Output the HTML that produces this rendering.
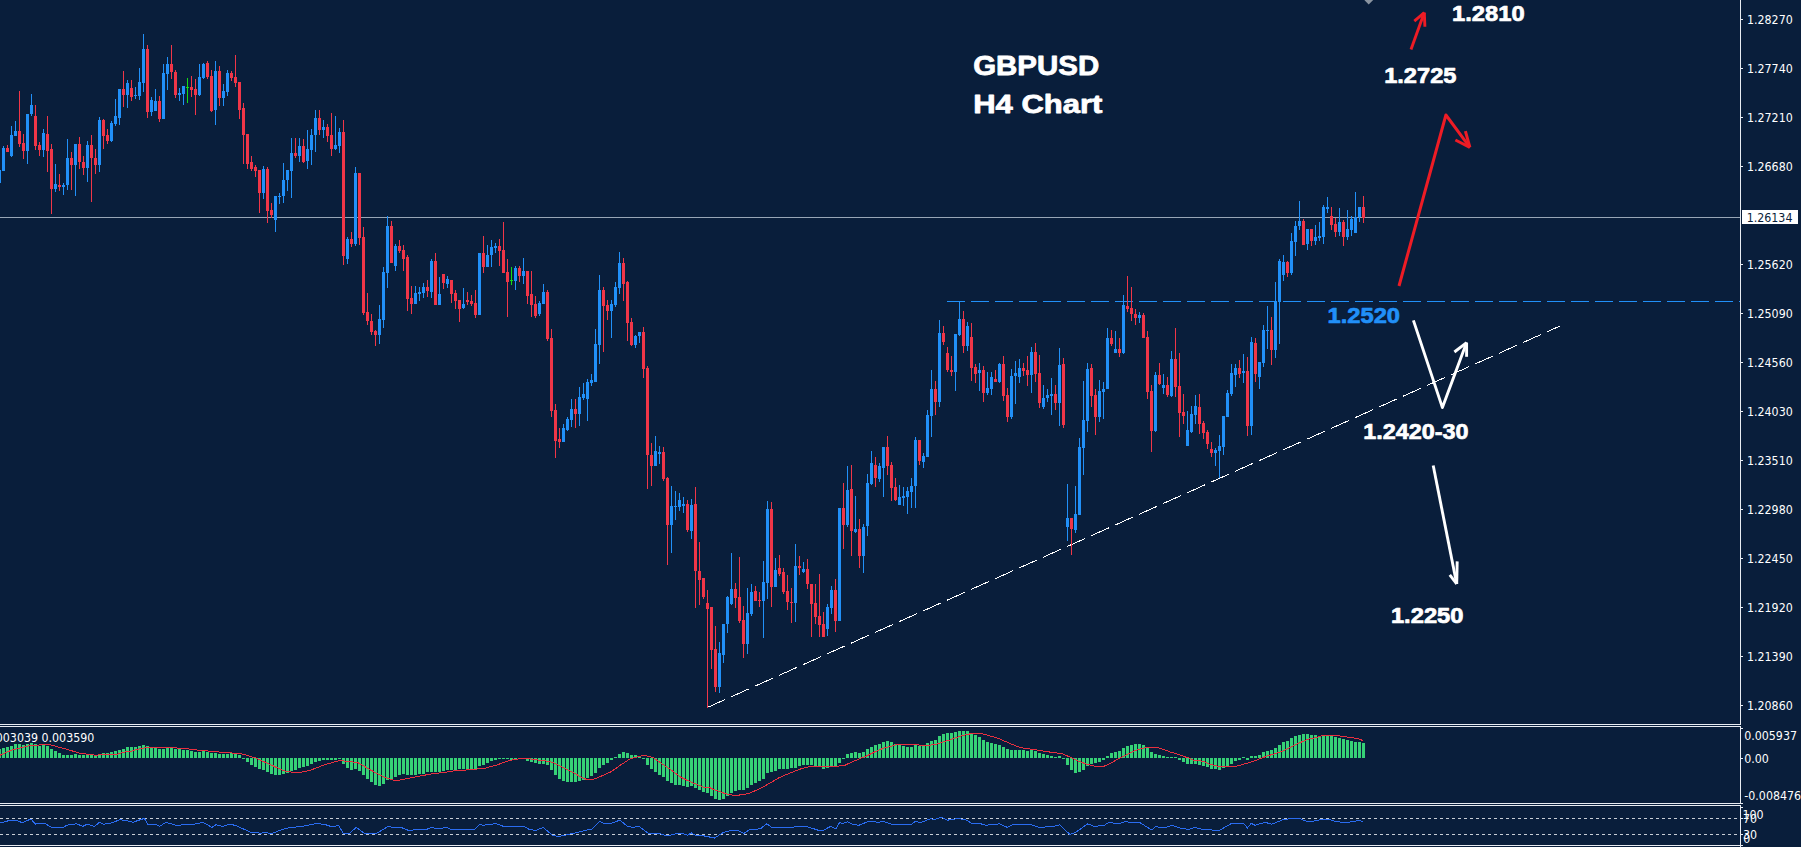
<!DOCTYPE html>
<html lang="en"><head><meta charset="utf-8"><title>GBPUSD H4 Chart</title>
<style>
html,body{margin:0;padding:0;background:#091e3b;}
body{width:1801px;height:847px;overflow:hidden;position:relative;}
</style></head><body>
<svg width="1801" height="847" viewBox="0 0 1801 847" style="position:absolute;left:0;top:0;display:block">
<rect x="0" y="0" width="1801" height="847" fill="#091e3b"/>
<rect x="0" y="217" width="1741" height="1" fill="#98a6b6"/>
<line x1="707.3" y1="707.5" x2="1560" y2="326" stroke="#ffffff" stroke-width="1" stroke-dasharray="19.72 6.57" shape-rendering="crispEdges"/>
<line x1="947" y1="301.5" x2="1740" y2="301.5" stroke="#2190f8" stroke-width="1" stroke-dasharray="18 6" shape-rendering="crispEdges"/>
<g shape-rendering="crispEdges">
<rect x="-1" y="170" width="1" height="13" fill="#2190f8"/>
<rect x="-2" y="170" width="3" height="13" fill="#2190f8"/>
<rect x="3" y="146" width="1" height="25" fill="#2190f8"/>
<rect x="2" y="148" width="3" height="23" fill="#2190f8"/>
<rect x="7" y="145" width="1" height="7" fill="#f03648"/>
<rect x="6" y="148" width="3" height="4" fill="#f03648"/>
<rect x="11" y="126" width="1" height="31" fill="#2190f8"/>
<rect x="10" y="135" width="3" height="21" fill="#2190f8"/>
<rect x="15" y="121" width="1" height="15" fill="#2190f8"/>
<rect x="14" y="131" width="3" height="5" fill="#2190f8"/>
<rect x="19" y="91" width="1" height="56" fill="#f03648"/>
<rect x="18" y="131" width="3" height="13" fill="#f03648"/>
<rect x="23" y="134" width="1" height="25" fill="#f03648"/>
<rect x="22" y="143" width="3" height="8" fill="#f03648"/>
<rect x="27" y="114" width="1" height="50" fill="#2190f8"/>
<rect x="26" y="114" width="3" height="37" fill="#2190f8"/>
<rect x="31" y="94" width="1" height="22" fill="#2190f8"/>
<rect x="30" y="105" width="3" height="9" fill="#2190f8"/>
<rect x="35" y="105" width="1" height="45" fill="#f03648"/>
<rect x="34" y="116" width="3" height="30" fill="#f03648"/>
<rect x="39" y="142" width="1" height="14" fill="#f03648"/>
<rect x="38" y="145" width="3" height="5" fill="#f03648"/>
<rect x="43" y="129" width="1" height="28" fill="#2190f8"/>
<rect x="42" y="133" width="3" height="17" fill="#2190f8"/>
<rect x="47" y="116" width="1" height="56" fill="#f03648"/>
<rect x="46" y="134" width="3" height="17" fill="#f03648"/>
<rect x="51" y="144" width="1" height="70" fill="#f03648"/>
<rect x="50" y="149" width="3" height="40" fill="#f03648"/>
<rect x="55" y="164" width="1" height="28" fill="#2190f8"/>
<rect x="54" y="184" width="3" height="5" fill="#2190f8"/>
<rect x="59" y="174" width="1" height="17" fill="#f03648"/>
<rect x="58" y="185" width="3" height="2" fill="#f03648"/>
<rect x="63" y="183" width="1" height="12" fill="#2190f8"/>
<rect x="62" y="185" width="3" height="2" fill="#2190f8"/>
<rect x="67" y="139" width="1" height="51" fill="#2190f8"/>
<rect x="66" y="158" width="3" height="27" fill="#2190f8"/>
<rect x="71" y="152" width="1" height="38" fill="#f03648"/>
<rect x="70" y="158" width="3" height="7" fill="#f03648"/>
<rect x="75" y="144" width="1" height="52" fill="#2190f8"/>
<rect x="74" y="144" width="3" height="21" fill="#2190f8"/>
<rect x="79" y="137" width="1" height="32" fill="#f03648"/>
<rect x="78" y="144" width="3" height="18" fill="#f03648"/>
<rect x="83" y="156" width="1" height="19" fill="#f03648"/>
<rect x="82" y="162" width="3" height="6" fill="#f03648"/>
<rect x="87" y="141" width="1" height="41" fill="#2190f8"/>
<rect x="86" y="145" width="3" height="23" fill="#2190f8"/>
<rect x="91" y="135" width="1" height="67" fill="#f03648"/>
<rect x="90" y="145" width="3" height="13" fill="#f03648"/>
<rect x="95" y="149" width="1" height="25" fill="#f03648"/>
<rect x="94" y="158" width="3" height="7" fill="#f03648"/>
<rect x="99" y="117" width="1" height="55" fill="#2190f8"/>
<rect x="98" y="120" width="3" height="45" fill="#2190f8"/>
<rect x="103" y="119" width="1" height="30" fill="#f03648"/>
<rect x="102" y="120" width="3" height="16" fill="#f03648"/>
<rect x="107" y="129" width="1" height="15" fill="#f03648"/>
<rect x="106" y="135" width="3" height="6" fill="#f03648"/>
<rect x="111" y="121" width="1" height="21" fill="#2190f8"/>
<rect x="110" y="123" width="3" height="18" fill="#2190f8"/>
<rect x="115" y="99" width="1" height="27" fill="#2190f8"/>
<rect x="114" y="116" width="3" height="8" fill="#2190f8"/>
<rect x="119" y="89" width="1" height="36" fill="#2190f8"/>
<rect x="118" y="89" width="3" height="29" fill="#2190f8"/>
<rect x="123" y="71" width="1" height="36" fill="#f03648"/>
<rect x="122" y="89" width="3" height="6" fill="#f03648"/>
<rect x="127" y="80" width="1" height="28" fill="#2190f8"/>
<rect x="126" y="83" width="3" height="12" fill="#2190f8"/>
<rect x="131" y="80" width="1" height="21" fill="#f03648"/>
<rect x="130" y="88" width="3" height="9" fill="#f03648"/>
<rect x="135" y="87" width="1" height="12" fill="#2190f8"/>
<rect x="134" y="95" width="3" height="1" fill="#2190f8"/>
<rect x="139" y="68" width="1" height="32" fill="#2190f8"/>
<rect x="138" y="82" width="3" height="14" fill="#2190f8"/>
<rect x="143" y="34" width="1" height="58" fill="#2190f8"/>
<rect x="142" y="49" width="3" height="34" fill="#2190f8"/>
<rect x="147" y="45" width="1" height="73" fill="#f03648"/>
<rect x="146" y="49" width="3" height="63" fill="#f03648"/>
<rect x="151" y="97" width="1" height="19" fill="#2190f8"/>
<rect x="150" y="100" width="3" height="12" fill="#2190f8"/>
<rect x="155" y="89" width="1" height="22" fill="#2190f8"/>
<rect x="154" y="101" width="3" height="10" fill="#2190f8"/>
<rect x="159" y="96" width="1" height="26" fill="#f03648"/>
<rect x="158" y="101" width="3" height="18" fill="#f03648"/>
<rect x="163" y="64" width="1" height="55" fill="#2190f8"/>
<rect x="162" y="73" width="3" height="46" fill="#2190f8"/>
<rect x="167" y="57" width="1" height="33" fill="#2190f8"/>
<rect x="166" y="64" width="3" height="10" fill="#2190f8"/>
<rect x="171" y="45" width="1" height="34" fill="#f03648"/>
<rect x="170" y="64" width="3" height="8" fill="#f03648"/>
<rect x="175" y="70" width="1" height="28" fill="#f03648"/>
<rect x="174" y="72" width="3" height="23" fill="#f03648"/>
<rect x="179" y="88" width="1" height="13" fill="#2190f8"/>
<rect x="178" y="93" width="3" height="2" fill="#2190f8"/>
<rect x="183" y="86" width="1" height="19" fill="#2190f8"/>
<rect x="182" y="86" width="3" height="8" fill="#2190f8"/>
<rect x="187" y="78" width="1" height="25" fill="#14dc14"/>
<rect x="186" y="87" width="3" height="1" fill="#14dc14"/>
<rect x="191" y="76" width="1" height="21" fill="#f03648"/>
<rect x="190" y="87" width="3" height="3" fill="#f03648"/>
<rect x="195" y="79" width="1" height="36" fill="#f03648"/>
<rect x="194" y="89" width="3" height="6" fill="#f03648"/>
<rect x="199" y="64" width="1" height="32" fill="#2190f8"/>
<rect x="198" y="77" width="3" height="18" fill="#2190f8"/>
<rect x="203" y="63" width="1" height="16" fill="#2190f8"/>
<rect x="202" y="64" width="3" height="14" fill="#2190f8"/>
<rect x="207" y="61" width="1" height="18" fill="#f03648"/>
<rect x="206" y="63" width="3" height="14" fill="#f03648"/>
<rect x="211" y="70" width="1" height="42" fill="#f03648"/>
<rect x="210" y="76" width="3" height="35" fill="#f03648"/>
<rect x="215" y="61" width="1" height="64" fill="#2190f8"/>
<rect x="214" y="71" width="3" height="39" fill="#2190f8"/>
<rect x="219" y="66" width="1" height="40" fill="#f03648"/>
<rect x="218" y="71" width="3" height="27" fill="#f03648"/>
<rect x="223" y="84" width="1" height="22" fill="#2190f8"/>
<rect x="222" y="91" width="3" height="7" fill="#2190f8"/>
<rect x="227" y="70" width="1" height="26" fill="#2190f8"/>
<rect x="226" y="73" width="3" height="19" fill="#2190f8"/>
<rect x="231" y="71" width="1" height="10" fill="#f03648"/>
<rect x="230" y="73" width="3" height="5" fill="#f03648"/>
<rect x="235" y="55" width="1" height="32" fill="#f03648"/>
<rect x="234" y="77" width="3" height="6" fill="#f03648"/>
<rect x="239" y="82" width="1" height="37" fill="#f03648"/>
<rect x="238" y="82" width="3" height="28" fill="#f03648"/>
<rect x="243" y="103" width="1" height="61" fill="#f03648"/>
<rect x="242" y="108" width="3" height="27" fill="#f03648"/>
<rect x="247" y="134" width="1" height="35" fill="#f03648"/>
<rect x="246" y="134" width="3" height="30" fill="#f03648"/>
<rect x="251" y="156" width="1" height="15" fill="#f03648"/>
<rect x="250" y="162" width="3" height="7" fill="#f03648"/>
<rect x="255" y="165" width="1" height="12" fill="#f03648"/>
<rect x="254" y="167" width="3" height="4" fill="#f03648"/>
<rect x="259" y="170" width="1" height="43" fill="#f03648"/>
<rect x="258" y="170" width="3" height="23" fill="#f03648"/>
<rect x="263" y="166" width="1" height="33" fill="#2190f8"/>
<rect x="262" y="169" width="3" height="24" fill="#2190f8"/>
<rect x="267" y="167" width="1" height="56" fill="#f03648"/>
<rect x="266" y="169" width="3" height="42" fill="#f03648"/>
<rect x="271" y="203" width="1" height="15" fill="#f03648"/>
<rect x="270" y="210" width="3" height="5" fill="#f03648"/>
<rect x="275" y="196" width="1" height="36" fill="#2190f8"/>
<rect x="274" y="196" width="3" height="24" fill="#2190f8"/>
<rect x="279" y="193" width="1" height="11" fill="#2190f8"/>
<rect x="278" y="196" width="3" height="1" fill="#2190f8"/>
<rect x="283" y="163" width="1" height="40" fill="#2190f8"/>
<rect x="282" y="180" width="3" height="16" fill="#2190f8"/>
<rect x="287" y="170" width="1" height="21" fill="#2190f8"/>
<rect x="286" y="170" width="3" height="10" fill="#2190f8"/>
<rect x="291" y="138" width="1" height="60" fill="#2190f8"/>
<rect x="290" y="153" width="3" height="18" fill="#2190f8"/>
<rect x="295" y="138" width="1" height="20" fill="#f03648"/>
<rect x="294" y="153" width="3" height="3" fill="#f03648"/>
<rect x="299" y="138" width="1" height="24" fill="#2190f8"/>
<rect x="298" y="146" width="3" height="10" fill="#2190f8"/>
<rect x="303" y="139" width="1" height="24" fill="#f03648"/>
<rect x="302" y="146" width="3" height="16" fill="#f03648"/>
<rect x="307" y="130" width="1" height="39" fill="#2190f8"/>
<rect x="306" y="149" width="3" height="12" fill="#2190f8"/>
<rect x="311" y="129" width="1" height="36" fill="#2190f8"/>
<rect x="310" y="135" width="3" height="15" fill="#2190f8"/>
<rect x="315" y="110" width="1" height="42" fill="#2190f8"/>
<rect x="314" y="118" width="3" height="17" fill="#2190f8"/>
<rect x="319" y="110" width="1" height="25" fill="#f03648"/>
<rect x="318" y="118" width="3" height="12" fill="#f03648"/>
<rect x="323" y="120" width="1" height="18" fill="#2190f8"/>
<rect x="322" y="127" width="3" height="3" fill="#2190f8"/>
<rect x="327" y="124" width="1" height="18" fill="#f03648"/>
<rect x="326" y="127" width="3" height="9" fill="#f03648"/>
<rect x="331" y="113" width="1" height="43" fill="#f03648"/>
<rect x="330" y="135" width="3" height="14" fill="#f03648"/>
<rect x="335" y="116" width="1" height="34" fill="#2190f8"/>
<rect x="334" y="145" width="3" height="4" fill="#2190f8"/>
<rect x="339" y="128" width="1" height="25" fill="#2190f8"/>
<rect x="338" y="132" width="3" height="14" fill="#2190f8"/>
<rect x="343" y="120" width="1" height="145" fill="#f03648"/>
<rect x="342" y="132" width="3" height="124" fill="#f03648"/>
<rect x="347" y="237" width="1" height="27" fill="#2190f8"/>
<rect x="346" y="239" width="3" height="20" fill="#2190f8"/>
<rect x="351" y="232" width="1" height="15" fill="#f03648"/>
<rect x="350" y="239" width="3" height="5" fill="#f03648"/>
<rect x="355" y="167" width="1" height="79" fill="#2190f8"/>
<rect x="354" y="173" width="3" height="71" fill="#2190f8"/>
<rect x="359" y="173" width="1" height="72" fill="#f03648"/>
<rect x="358" y="173" width="3" height="65" fill="#f03648"/>
<rect x="363" y="227" width="1" height="88" fill="#f03648"/>
<rect x="362" y="237" width="3" height="76" fill="#f03648"/>
<rect x="367" y="293" width="1" height="32" fill="#f03648"/>
<rect x="366" y="312" width="3" height="9" fill="#f03648"/>
<rect x="371" y="314" width="1" height="21" fill="#f03648"/>
<rect x="370" y="321" width="3" height="11" fill="#f03648"/>
<rect x="375" y="330" width="1" height="16" fill="#f03648"/>
<rect x="374" y="331" width="3" height="4" fill="#f03648"/>
<rect x="379" y="305" width="1" height="39" fill="#2190f8"/>
<rect x="378" y="319" width="3" height="16" fill="#2190f8"/>
<rect x="383" y="267" width="1" height="61" fill="#2190f8"/>
<rect x="382" y="272" width="3" height="48" fill="#2190f8"/>
<rect x="387" y="216" width="1" height="72" fill="#2190f8"/>
<rect x="386" y="226" width="3" height="47" fill="#2190f8"/>
<rect x="391" y="221" width="1" height="42" fill="#f03648"/>
<rect x="390" y="226" width="3" height="37" fill="#f03648"/>
<rect x="395" y="244" width="1" height="27" fill="#2190f8"/>
<rect x="394" y="246" width="3" height="20" fill="#2190f8"/>
<rect x="399" y="240" width="1" height="13" fill="#f03648"/>
<rect x="398" y="246" width="3" height="5" fill="#f03648"/>
<rect x="403" y="245" width="1" height="26" fill="#f03648"/>
<rect x="402" y="250" width="3" height="9" fill="#f03648"/>
<rect x="407" y="255" width="1" height="56" fill="#f03648"/>
<rect x="406" y="257" width="3" height="42" fill="#f03648"/>
<rect x="411" y="286" width="1" height="28" fill="#f03648"/>
<rect x="410" y="298" width="3" height="6" fill="#f03648"/>
<rect x="415" y="286" width="1" height="18" fill="#2190f8"/>
<rect x="414" y="293" width="3" height="11" fill="#2190f8"/>
<rect x="419" y="287" width="1" height="14" fill="#2190f8"/>
<rect x="418" y="292" width="3" height="2" fill="#2190f8"/>
<rect x="423" y="283" width="1" height="15" fill="#2190f8"/>
<rect x="422" y="287" width="3" height="6" fill="#2190f8"/>
<rect x="427" y="280" width="1" height="17" fill="#f03648"/>
<rect x="426" y="287" width="3" height="4" fill="#f03648"/>
<rect x="431" y="259" width="1" height="39" fill="#2190f8"/>
<rect x="430" y="261" width="3" height="31" fill="#2190f8"/>
<rect x="435" y="253" width="1" height="52" fill="#f03648"/>
<rect x="434" y="261" width="3" height="44" fill="#f03648"/>
<rect x="439" y="277" width="1" height="28" fill="#2190f8"/>
<rect x="438" y="294" width="3" height="11" fill="#2190f8"/>
<rect x="443" y="274" width="1" height="15" fill="#f03648"/>
<rect x="442" y="274" width="3" height="9" fill="#f03648"/>
<rect x="447" y="276" width="1" height="12" fill="#2190f8"/>
<rect x="446" y="279" width="3" height="5" fill="#2190f8"/>
<rect x="451" y="280" width="1" height="23" fill="#f03648"/>
<rect x="450" y="280" width="3" height="14" fill="#f03648"/>
<rect x="455" y="290" width="1" height="19" fill="#f03648"/>
<rect x="454" y="293" width="3" height="8" fill="#f03648"/>
<rect x="459" y="300" width="1" height="22" fill="#f03648"/>
<rect x="458" y="300" width="3" height="9" fill="#f03648"/>
<rect x="463" y="288" width="1" height="21" fill="#2190f8"/>
<rect x="462" y="304" width="3" height="4" fill="#2190f8"/>
<rect x="467" y="292" width="1" height="13" fill="#f03648"/>
<rect x="466" y="300" width="3" height="2" fill="#f03648"/>
<rect x="471" y="295" width="1" height="11" fill="#f03648"/>
<rect x="470" y="301" width="3" height="3" fill="#f03648"/>
<rect x="475" y="290" width="1" height="28" fill="#f03648"/>
<rect x="474" y="303" width="3" height="12" fill="#f03648"/>
<rect x="479" y="253" width="1" height="62" fill="#2190f8"/>
<rect x="478" y="253" width="3" height="62" fill="#2190f8"/>
<rect x="483" y="236" width="1" height="37" fill="#f03648"/>
<rect x="482" y="253" width="3" height="14" fill="#f03648"/>
<rect x="487" y="245" width="1" height="22" fill="#2190f8"/>
<rect x="486" y="255" width="3" height="12" fill="#2190f8"/>
<rect x="491" y="240" width="1" height="27" fill="#2190f8"/>
<rect x="490" y="247" width="3" height="8" fill="#2190f8"/>
<rect x="495" y="243" width="1" height="10" fill="#2190f8"/>
<rect x="494" y="246" width="3" height="2" fill="#2190f8"/>
<rect x="499" y="239" width="1" height="27" fill="#f03648"/>
<rect x="498" y="246" width="3" height="5" fill="#f03648"/>
<rect x="503" y="222" width="1" height="51" fill="#f03648"/>
<rect x="502" y="250" width="3" height="23" fill="#f03648"/>
<rect x="507" y="259" width="1" height="58" fill="#f03648"/>
<rect x="506" y="272" width="3" height="10" fill="#f03648"/>
<rect x="511" y="267" width="1" height="18" fill="#14dc14"/>
<rect x="510" y="280" width="3" height="1" fill="#14dc14"/>
<rect x="515" y="266" width="1" height="24" fill="#2190f8"/>
<rect x="514" y="268" width="3" height="13" fill="#2190f8"/>
<rect x="519" y="266" width="1" height="16" fill="#f03648"/>
<rect x="518" y="268" width="3" height="8" fill="#f03648"/>
<rect x="523" y="258" width="1" height="26" fill="#2190f8"/>
<rect x="522" y="271" width="3" height="5" fill="#2190f8"/>
<rect x="527" y="271" width="1" height="33" fill="#f03648"/>
<rect x="526" y="271" width="3" height="25" fill="#f03648"/>
<rect x="531" y="271" width="1" height="46" fill="#f03648"/>
<rect x="530" y="294" width="3" height="11" fill="#f03648"/>
<rect x="535" y="296" width="1" height="22" fill="#f03648"/>
<rect x="534" y="304" width="3" height="12" fill="#f03648"/>
<rect x="539" y="301" width="1" height="15" fill="#2190f8"/>
<rect x="538" y="303" width="3" height="11" fill="#2190f8"/>
<rect x="543" y="284" width="1" height="20" fill="#2190f8"/>
<rect x="542" y="292" width="3" height="12" fill="#2190f8"/>
<rect x="547" y="290" width="1" height="51" fill="#f03648"/>
<rect x="546" y="292" width="3" height="47" fill="#f03648"/>
<rect x="551" y="329" width="1" height="88" fill="#f03648"/>
<rect x="550" y="338" width="3" height="73" fill="#f03648"/>
<rect x="555" y="404" width="1" height="54" fill="#f03648"/>
<rect x="554" y="410" width="3" height="31" fill="#f03648"/>
<rect x="559" y="428" width="1" height="20" fill="#f03648"/>
<rect x="558" y="439" width="3" height="3" fill="#f03648"/>
<rect x="563" y="424" width="1" height="18" fill="#2190f8"/>
<rect x="562" y="428" width="3" height="14" fill="#2190f8"/>
<rect x="567" y="417" width="1" height="14" fill="#2190f8"/>
<rect x="566" y="419" width="3" height="11" fill="#2190f8"/>
<rect x="571" y="399" width="1" height="28" fill="#2190f8"/>
<rect x="570" y="409" width="3" height="11" fill="#2190f8"/>
<rect x="575" y="399" width="1" height="29" fill="#f03648"/>
<rect x="574" y="409" width="3" height="5" fill="#f03648"/>
<rect x="579" y="387" width="1" height="39" fill="#2190f8"/>
<rect x="578" y="397" width="3" height="17" fill="#2190f8"/>
<rect x="583" y="383" width="1" height="17" fill="#2190f8"/>
<rect x="582" y="394" width="3" height="4" fill="#2190f8"/>
<rect x="587" y="379" width="1" height="42" fill="#2190f8"/>
<rect x="586" y="382" width="3" height="17" fill="#2190f8"/>
<rect x="591" y="374" width="1" height="12" fill="#2190f8"/>
<rect x="590" y="380" width="3" height="3" fill="#2190f8"/>
<rect x="595" y="329" width="1" height="53" fill="#2190f8"/>
<rect x="594" y="344" width="3" height="38" fill="#2190f8"/>
<rect x="599" y="275" width="1" height="89" fill="#2190f8"/>
<rect x="598" y="290" width="3" height="55" fill="#2190f8"/>
<rect x="603" y="287" width="1" height="65" fill="#f03648"/>
<rect x="602" y="290" width="3" height="16" fill="#f03648"/>
<rect x="607" y="300" width="1" height="20" fill="#f03648"/>
<rect x="606" y="305" width="3" height="6" fill="#f03648"/>
<rect x="611" y="300" width="1" height="38" fill="#2190f8"/>
<rect x="610" y="304" width="3" height="7" fill="#2190f8"/>
<rect x="615" y="282" width="1" height="25" fill="#2190f8"/>
<rect x="614" y="287" width="3" height="18" fill="#2190f8"/>
<rect x="619" y="252" width="1" height="42" fill="#2190f8"/>
<rect x="618" y="263" width="3" height="25" fill="#2190f8"/>
<rect x="623" y="258" width="1" height="43" fill="#f03648"/>
<rect x="622" y="263" width="3" height="21" fill="#f03648"/>
<rect x="627" y="281" width="1" height="60" fill="#f03648"/>
<rect x="626" y="282" width="3" height="41" fill="#f03648"/>
<rect x="631" y="318" width="1" height="28" fill="#f03648"/>
<rect x="630" y="322" width="3" height="23" fill="#f03648"/>
<rect x="635" y="335" width="1" height="13" fill="#2190f8"/>
<rect x="634" y="336" width="3" height="9" fill="#2190f8"/>
<rect x="639" y="332" width="1" height="11" fill="#2190f8"/>
<rect x="638" y="332" width="3" height="4" fill="#2190f8"/>
<rect x="643" y="327" width="1" height="51" fill="#f03648"/>
<rect x="642" y="332" width="3" height="37" fill="#f03648"/>
<rect x="647" y="366" width="1" height="123" fill="#f03648"/>
<rect x="646" y="368" width="3" height="87" fill="#f03648"/>
<rect x="651" y="443" width="1" height="43" fill="#f03648"/>
<rect x="650" y="455" width="3" height="11" fill="#f03648"/>
<rect x="655" y="436" width="1" height="30" fill="#2190f8"/>
<rect x="654" y="451" width="3" height="15" fill="#2190f8"/>
<rect x="659" y="446" width="1" height="18" fill="#2190f8"/>
<rect x="658" y="452" width="3" height="2" fill="#2190f8"/>
<rect x="663" y="447" width="1" height="34" fill="#f03648"/>
<rect x="662" y="452" width="3" height="27" fill="#f03648"/>
<rect x="667" y="477" width="1" height="88" fill="#f03648"/>
<rect x="666" y="478" width="3" height="47" fill="#f03648"/>
<rect x="671" y="486" width="1" height="67" fill="#2190f8"/>
<rect x="670" y="506" width="3" height="19" fill="#2190f8"/>
<rect x="675" y="491" width="1" height="29" fill="#2190f8"/>
<rect x="674" y="506" width="3" height="1" fill="#2190f8"/>
<rect x="679" y="493" width="1" height="18" fill="#2190f8"/>
<rect x="678" y="500" width="3" height="7" fill="#2190f8"/>
<rect x="683" y="497" width="1" height="16" fill="#2190f8"/>
<rect x="682" y="504" width="3" height="2" fill="#2190f8"/>
<rect x="687" y="500" width="1" height="32" fill="#f03648"/>
<rect x="686" y="504" width="3" height="26" fill="#f03648"/>
<rect x="691" y="499" width="1" height="40" fill="#2190f8"/>
<rect x="690" y="505" width="3" height="26" fill="#2190f8"/>
<rect x="695" y="487" width="1" height="121" fill="#f03648"/>
<rect x="694" y="504" width="3" height="67" fill="#f03648"/>
<rect x="699" y="542" width="1" height="63" fill="#f03648"/>
<rect x="698" y="571" width="3" height="9" fill="#f03648"/>
<rect x="703" y="578" width="1" height="21" fill="#f03648"/>
<rect x="702" y="578" width="3" height="19" fill="#f03648"/>
<rect x="707" y="590" width="1" height="118" fill="#f03648"/>
<rect x="706" y="603" width="3" height="6" fill="#f03648"/>
<rect x="711" y="607" width="1" height="62" fill="#f03648"/>
<rect x="710" y="607" width="3" height="43" fill="#f03648"/>
<rect x="715" y="626" width="1" height="66" fill="#f03648"/>
<rect x="714" y="649" width="3" height="38" fill="#f03648"/>
<rect x="719" y="642" width="1" height="51" fill="#2190f8"/>
<rect x="718" y="653" width="3" height="34" fill="#2190f8"/>
<rect x="723" y="624" width="1" height="39" fill="#2190f8"/>
<rect x="722" y="624" width="3" height="31" fill="#2190f8"/>
<rect x="727" y="596" width="1" height="37" fill="#2190f8"/>
<rect x="726" y="597" width="3" height="27" fill="#2190f8"/>
<rect x="731" y="553" width="1" height="52" fill="#2190f8"/>
<rect x="730" y="589" width="3" height="15" fill="#2190f8"/>
<rect x="735" y="583" width="1" height="25" fill="#f03648"/>
<rect x="734" y="589" width="3" height="9" fill="#f03648"/>
<rect x="739" y="557" width="1" height="66" fill="#f03648"/>
<rect x="738" y="597" width="3" height="24" fill="#f03648"/>
<rect x="743" y="606" width="1" height="52" fill="#f03648"/>
<rect x="742" y="620" width="3" height="24" fill="#f03648"/>
<rect x="747" y="588" width="1" height="66" fill="#2190f8"/>
<rect x="746" y="613" width="3" height="31" fill="#2190f8"/>
<rect x="751" y="584" width="1" height="32" fill="#2190f8"/>
<rect x="750" y="592" width="3" height="22" fill="#2190f8"/>
<rect x="755" y="586" width="1" height="15" fill="#f03648"/>
<rect x="754" y="591" width="3" height="10" fill="#f03648"/>
<rect x="759" y="592" width="1" height="15" fill="#f03648"/>
<rect x="758" y="600" width="3" height="1" fill="#f03648"/>
<rect x="763" y="561" width="1" height="77" fill="#2190f8"/>
<rect x="762" y="582" width="3" height="19" fill="#2190f8"/>
<rect x="767" y="501" width="1" height="98" fill="#2190f8"/>
<rect x="766" y="509" width="3" height="74" fill="#2190f8"/>
<rect x="771" y="502" width="1" height="105" fill="#f03648"/>
<rect x="770" y="509" width="3" height="78" fill="#f03648"/>
<rect x="775" y="558" width="1" height="29" fill="#2190f8"/>
<rect x="774" y="570" width="3" height="17" fill="#2190f8"/>
<rect x="779" y="555" width="1" height="21" fill="#f03648"/>
<rect x="778" y="568" width="3" height="6" fill="#f03648"/>
<rect x="783" y="568" width="1" height="26" fill="#f03648"/>
<rect x="782" y="572" width="3" height="20" fill="#f03648"/>
<rect x="787" y="575" width="1" height="35" fill="#f03648"/>
<rect x="786" y="591" width="3" height="11" fill="#f03648"/>
<rect x="791" y="588" width="1" height="35" fill="#f03648"/>
<rect x="790" y="602" width="3" height="1" fill="#f03648"/>
<rect x="795" y="544" width="1" height="78" fill="#2190f8"/>
<rect x="794" y="566" width="3" height="37" fill="#2190f8"/>
<rect x="799" y="556" width="1" height="19" fill="#f03648"/>
<rect x="798" y="566" width="3" height="2" fill="#f03648"/>
<rect x="803" y="562" width="1" height="11" fill="#2190f8"/>
<rect x="802" y="569" width="3" height="3" fill="#2190f8"/>
<rect x="807" y="559" width="1" height="30" fill="#f03648"/>
<rect x="806" y="569" width="3" height="15" fill="#f03648"/>
<rect x="811" y="584" width="1" height="53" fill="#f03648"/>
<rect x="810" y="584" width="3" height="20" fill="#f03648"/>
<rect x="815" y="584" width="1" height="40" fill="#f03648"/>
<rect x="814" y="603" width="3" height="14" fill="#f03648"/>
<rect x="819" y="574" width="1" height="63" fill="#f03648"/>
<rect x="818" y="616" width="3" height="9" fill="#f03648"/>
<rect x="823" y="612" width="1" height="25" fill="#f03648"/>
<rect x="822" y="624" width="3" height="13" fill="#f03648"/>
<rect x="827" y="604" width="1" height="32" fill="#2190f8"/>
<rect x="826" y="607" width="3" height="22" fill="#2190f8"/>
<rect x="831" y="586" width="1" height="28" fill="#2190f8"/>
<rect x="830" y="590" width="3" height="18" fill="#2190f8"/>
<rect x="835" y="579" width="1" height="53" fill="#f03648"/>
<rect x="834" y="590" width="3" height="31" fill="#f03648"/>
<rect x="839" y="508" width="1" height="113" fill="#2190f8"/>
<rect x="838" y="508" width="3" height="113" fill="#2190f8"/>
<rect x="843" y="483" width="1" height="66" fill="#f03648"/>
<rect x="842" y="508" width="3" height="17" fill="#f03648"/>
<rect x="847" y="466" width="1" height="61" fill="#2190f8"/>
<rect x="846" y="490" width="3" height="35" fill="#2190f8"/>
<rect x="851" y="465" width="1" height="91" fill="#f03648"/>
<rect x="850" y="489" width="3" height="42" fill="#f03648"/>
<rect x="855" y="496" width="1" height="37" fill="#2190f8"/>
<rect x="854" y="529" width="3" height="3" fill="#2190f8"/>
<rect x="859" y="519" width="1" height="49" fill="#f03648"/>
<rect x="858" y="529" width="3" height="27" fill="#f03648"/>
<rect x="863" y="524" width="1" height="49" fill="#2190f8"/>
<rect x="862" y="527" width="3" height="29" fill="#2190f8"/>
<rect x="867" y="474" width="1" height="62" fill="#2190f8"/>
<rect x="866" y="483" width="3" height="43" fill="#2190f8"/>
<rect x="871" y="451" width="1" height="34" fill="#2190f8"/>
<rect x="870" y="463" width="3" height="21" fill="#2190f8"/>
<rect x="875" y="457" width="1" height="30" fill="#f03648"/>
<rect x="874" y="465" width="3" height="13" fill="#f03648"/>
<rect x="879" y="463" width="1" height="19" fill="#2190f8"/>
<rect x="878" y="466" width="3" height="13" fill="#2190f8"/>
<rect x="883" y="447" width="1" height="50" fill="#2190f8"/>
<rect x="882" y="447" width="3" height="21" fill="#2190f8"/>
<rect x="887" y="436" width="1" height="39" fill="#f03648"/>
<rect x="886" y="447" width="3" height="19" fill="#f03648"/>
<rect x="891" y="462" width="1" height="39" fill="#f03648"/>
<rect x="890" y="465" width="3" height="23" fill="#f03648"/>
<rect x="895" y="478" width="1" height="23" fill="#f03648"/>
<rect x="894" y="487" width="3" height="13" fill="#f03648"/>
<rect x="899" y="485" width="1" height="20" fill="#2190f8"/>
<rect x="898" y="497" width="3" height="8" fill="#2190f8"/>
<rect x="903" y="487" width="1" height="19" fill="#2190f8"/>
<rect x="902" y="496" width="3" height="2" fill="#2190f8"/>
<rect x="907" y="487" width="1" height="27" fill="#2190f8"/>
<rect x="906" y="491" width="3" height="6" fill="#2190f8"/>
<rect x="911" y="478" width="1" height="30" fill="#2190f8"/>
<rect x="910" y="486" width="3" height="6" fill="#2190f8"/>
<rect x="915" y="437" width="1" height="71" fill="#2190f8"/>
<rect x="914" y="440" width="3" height="46" fill="#2190f8"/>
<rect x="919" y="440" width="1" height="25" fill="#f03648"/>
<rect x="918" y="440" width="3" height="21" fill="#f03648"/>
<rect x="923" y="453" width="1" height="15" fill="#2190f8"/>
<rect x="922" y="456" width="3" height="6" fill="#2190f8"/>
<rect x="927" y="410" width="1" height="47" fill="#2190f8"/>
<rect x="926" y="415" width="3" height="42" fill="#2190f8"/>
<rect x="931" y="370" width="1" height="67" fill="#2190f8"/>
<rect x="930" y="389" width="3" height="27" fill="#2190f8"/>
<rect x="935" y="381" width="1" height="34" fill="#f03648"/>
<rect x="934" y="389" width="3" height="13" fill="#f03648"/>
<rect x="939" y="320" width="1" height="87" fill="#2190f8"/>
<rect x="938" y="333" width="3" height="69" fill="#2190f8"/>
<rect x="943" y="326" width="1" height="19" fill="#f03648"/>
<rect x="942" y="333" width="3" height="9" fill="#f03648"/>
<rect x="947" y="347" width="1" height="25" fill="#f03648"/>
<rect x="946" y="353" width="3" height="17" fill="#f03648"/>
<rect x="951" y="356" width="1" height="20" fill="#f03648"/>
<rect x="950" y="370" width="3" height="2" fill="#f03648"/>
<rect x="955" y="334" width="1" height="57" fill="#2190f8"/>
<rect x="954" y="334" width="3" height="38" fill="#2190f8"/>
<rect x="959" y="301" width="1" height="35" fill="#2190f8"/>
<rect x="958" y="319" width="3" height="16" fill="#2190f8"/>
<rect x="963" y="311" width="1" height="42" fill="#f03648"/>
<rect x="962" y="319" width="3" height="27" fill="#f03648"/>
<rect x="967" y="322" width="1" height="29" fill="#2190f8"/>
<rect x="966" y="326" width="3" height="20" fill="#2190f8"/>
<rect x="971" y="323" width="1" height="58" fill="#f03648"/>
<rect x="970" y="337" width="3" height="31" fill="#f03648"/>
<rect x="975" y="364" width="1" height="19" fill="#f03648"/>
<rect x="974" y="367" width="3" height="7" fill="#f03648"/>
<rect x="979" y="363" width="1" height="28" fill="#2190f8"/>
<rect x="978" y="370" width="3" height="3" fill="#2190f8"/>
<rect x="983" y="366" width="1" height="36" fill="#f03648"/>
<rect x="982" y="370" width="3" height="23" fill="#f03648"/>
<rect x="987" y="372" width="1" height="23" fill="#2190f8"/>
<rect x="986" y="388" width="3" height="5" fill="#2190f8"/>
<rect x="991" y="372" width="1" height="23" fill="#2190f8"/>
<rect x="990" y="377" width="3" height="12" fill="#2190f8"/>
<rect x="995" y="370" width="1" height="12" fill="#f03648"/>
<rect x="994" y="379" width="3" height="3" fill="#f03648"/>
<rect x="999" y="363" width="1" height="20" fill="#2190f8"/>
<rect x="998" y="364" width="3" height="18" fill="#2190f8"/>
<rect x="1003" y="356" width="1" height="45" fill="#f03648"/>
<rect x="1002" y="364" width="3" height="32" fill="#f03648"/>
<rect x="1007" y="388" width="1" height="34" fill="#f03648"/>
<rect x="1006" y="395" width="3" height="22" fill="#f03648"/>
<rect x="1011" y="369" width="1" height="50" fill="#2190f8"/>
<rect x="1010" y="376" width="3" height="41" fill="#2190f8"/>
<rect x="1015" y="361" width="1" height="43" fill="#2190f8"/>
<rect x="1014" y="373" width="3" height="3" fill="#2190f8"/>
<rect x="1019" y="359" width="1" height="24" fill="#2190f8"/>
<rect x="1018" y="368" width="3" height="9" fill="#2190f8"/>
<rect x="1023" y="363" width="1" height="13" fill="#f03648"/>
<rect x="1022" y="368" width="3" height="3" fill="#f03648"/>
<rect x="1027" y="356" width="1" height="30" fill="#f03648"/>
<rect x="1026" y="370" width="3" height="5" fill="#f03648"/>
<rect x="1031" y="347" width="1" height="46" fill="#2190f8"/>
<rect x="1030" y="352" width="3" height="23" fill="#2190f8"/>
<rect x="1035" y="343" width="1" height="39" fill="#f03648"/>
<rect x="1034" y="352" width="3" height="22" fill="#f03648"/>
<rect x="1039" y="355" width="1" height="53" fill="#f03648"/>
<rect x="1038" y="373" width="3" height="30" fill="#f03648"/>
<rect x="1043" y="385" width="1" height="24" fill="#2190f8"/>
<rect x="1042" y="398" width="3" height="9" fill="#2190f8"/>
<rect x="1047" y="389" width="1" height="13" fill="#2190f8"/>
<rect x="1046" y="395" width="3" height="3" fill="#2190f8"/>
<rect x="1051" y="378" width="1" height="37" fill="#2190f8"/>
<rect x="1050" y="394" width="3" height="2" fill="#2190f8"/>
<rect x="1055" y="385" width="1" height="25" fill="#f03648"/>
<rect x="1054" y="394" width="3" height="9" fill="#f03648"/>
<rect x="1059" y="348" width="1" height="78" fill="#2190f8"/>
<rect x="1058" y="365" width="3" height="38" fill="#2190f8"/>
<rect x="1063" y="358" width="1" height="70" fill="#f03648"/>
<rect x="1062" y="364" width="3" height="61" fill="#f03648"/>
<rect x="1067" y="484" width="1" height="57" fill="#2190f8"/>
<rect x="1066" y="518" width="3" height="9" fill="#2190f8"/>
<rect x="1071" y="518" width="1" height="37" fill="#f03648"/>
<rect x="1070" y="518" width="3" height="11" fill="#f03648"/>
<rect x="1075" y="486" width="1" height="47" fill="#2190f8"/>
<rect x="1074" y="514" width="3" height="16" fill="#2190f8"/>
<rect x="1079" y="438" width="1" height="77" fill="#2190f8"/>
<rect x="1078" y="447" width="3" height="68" fill="#2190f8"/>
<rect x="1083" y="381" width="1" height="94" fill="#2190f8"/>
<rect x="1082" y="420" width="3" height="28" fill="#2190f8"/>
<rect x="1087" y="363" width="1" height="69" fill="#2190f8"/>
<rect x="1086" y="369" width="3" height="52" fill="#2190f8"/>
<rect x="1091" y="364" width="1" height="43" fill="#f03648"/>
<rect x="1090" y="368" width="3" height="28" fill="#f03648"/>
<rect x="1095" y="389" width="1" height="46" fill="#f03648"/>
<rect x="1094" y="395" width="3" height="22" fill="#f03648"/>
<rect x="1099" y="380" width="1" height="42" fill="#2190f8"/>
<rect x="1098" y="391" width="3" height="26" fill="#2190f8"/>
<rect x="1103" y="382" width="1" height="37" fill="#2190f8"/>
<rect x="1102" y="389" width="3" height="3" fill="#2190f8"/>
<rect x="1107" y="328" width="1" height="61" fill="#2190f8"/>
<rect x="1106" y="338" width="3" height="51" fill="#2190f8"/>
<rect x="1111" y="330" width="1" height="16" fill="#f03648"/>
<rect x="1110" y="338" width="3" height="6" fill="#f03648"/>
<rect x="1115" y="331" width="1" height="22" fill="#2190f8"/>
<rect x="1114" y="349" width="3" height="4" fill="#2190f8"/>
<rect x="1119" y="338" width="1" height="19" fill="#f03648"/>
<rect x="1118" y="349" width="3" height="4" fill="#f03648"/>
<rect x="1123" y="295" width="1" height="59" fill="#2190f8"/>
<rect x="1122" y="305" width="3" height="48" fill="#2190f8"/>
<rect x="1127" y="276" width="1" height="36" fill="#f03648"/>
<rect x="1126" y="306" width="3" height="3" fill="#f03648"/>
<rect x="1131" y="287" width="1" height="34" fill="#f03648"/>
<rect x="1130" y="308" width="3" height="6" fill="#f03648"/>
<rect x="1135" y="309" width="1" height="16" fill="#f03648"/>
<rect x="1134" y="314" width="3" height="4" fill="#f03648"/>
<rect x="1139" y="312" width="1" height="11" fill="#2190f8"/>
<rect x="1138" y="315" width="3" height="3" fill="#2190f8"/>
<rect x="1143" y="313" width="1" height="25" fill="#f03648"/>
<rect x="1142" y="315" width="3" height="23" fill="#f03648"/>
<rect x="1147" y="331" width="1" height="68" fill="#f03648"/>
<rect x="1146" y="337" width="3" height="55" fill="#f03648"/>
<rect x="1151" y="385" width="1" height="67" fill="#f03648"/>
<rect x="1150" y="391" width="3" height="40" fill="#f03648"/>
<rect x="1155" y="372" width="1" height="60" fill="#2190f8"/>
<rect x="1154" y="375" width="3" height="56" fill="#2190f8"/>
<rect x="1159" y="363" width="1" height="22" fill="#f03648"/>
<rect x="1158" y="375" width="3" height="9" fill="#f03648"/>
<rect x="1163" y="374" width="1" height="20" fill="#2190f8"/>
<rect x="1162" y="385" width="3" height="3" fill="#2190f8"/>
<rect x="1167" y="377" width="1" height="20" fill="#f03648"/>
<rect x="1166" y="385" width="3" height="10" fill="#f03648"/>
<rect x="1171" y="351" width="1" height="46" fill="#2190f8"/>
<rect x="1170" y="359" width="3" height="37" fill="#2190f8"/>
<rect x="1175" y="328" width="1" height="69" fill="#f03648"/>
<rect x="1174" y="359" width="3" height="28" fill="#f03648"/>
<rect x="1179" y="353" width="1" height="84" fill="#f03648"/>
<rect x="1178" y="386" width="3" height="27" fill="#f03648"/>
<rect x="1183" y="394" width="1" height="30" fill="#f03648"/>
<rect x="1182" y="412" width="3" height="4" fill="#f03648"/>
<rect x="1187" y="411" width="1" height="35" fill="#2190f8"/>
<rect x="1186" y="430" width="3" height="16" fill="#2190f8"/>
<rect x="1191" y="406" width="1" height="27" fill="#2190f8"/>
<rect x="1190" y="414" width="3" height="18" fill="#2190f8"/>
<rect x="1195" y="395" width="1" height="29" fill="#2190f8"/>
<rect x="1194" y="406" width="3" height="9" fill="#2190f8"/>
<rect x="1199" y="394" width="1" height="40" fill="#f03648"/>
<rect x="1198" y="407" width="3" height="17" fill="#f03648"/>
<rect x="1203" y="421" width="1" height="18" fill="#f03648"/>
<rect x="1202" y="423" width="3" height="10" fill="#f03648"/>
<rect x="1207" y="430" width="1" height="19" fill="#f03648"/>
<rect x="1206" y="432" width="3" height="12" fill="#f03648"/>
<rect x="1211" y="442" width="1" height="15" fill="#f03648"/>
<rect x="1210" y="449" width="3" height="4" fill="#f03648"/>
<rect x="1215" y="448" width="1" height="18" fill="#2190f8"/>
<rect x="1214" y="450" width="3" height="3" fill="#2190f8"/>
<rect x="1219" y="435" width="1" height="43" fill="#2190f8"/>
<rect x="1218" y="446" width="3" height="5" fill="#2190f8"/>
<rect x="1223" y="416" width="1" height="39" fill="#2190f8"/>
<rect x="1222" y="416" width="3" height="31" fill="#2190f8"/>
<rect x="1227" y="390" width="1" height="27" fill="#2190f8"/>
<rect x="1226" y="393" width="3" height="24" fill="#2190f8"/>
<rect x="1231" y="364" width="1" height="32" fill="#2190f8"/>
<rect x="1230" y="373" width="3" height="21" fill="#2190f8"/>
<rect x="1235" y="364" width="1" height="23" fill="#2190f8"/>
<rect x="1234" y="368" width="3" height="7" fill="#2190f8"/>
<rect x="1239" y="360" width="1" height="18" fill="#f03648"/>
<rect x="1238" y="368" width="3" height="6" fill="#f03648"/>
<rect x="1243" y="354" width="1" height="29" fill="#2190f8"/>
<rect x="1242" y="371" width="3" height="2" fill="#2190f8"/>
<rect x="1247" y="357" width="1" height="79" fill="#f03648"/>
<rect x="1246" y="371" width="3" height="55" fill="#f03648"/>
<rect x="1251" y="337" width="1" height="98" fill="#2190f8"/>
<rect x="1250" y="342" width="3" height="84" fill="#2190f8"/>
<rect x="1255" y="338" width="1" height="44" fill="#f03648"/>
<rect x="1254" y="343" width="3" height="31" fill="#f03648"/>
<rect x="1259" y="362" width="1" height="27" fill="#2190f8"/>
<rect x="1258" y="362" width="3" height="15" fill="#2190f8"/>
<rect x="1263" y="325" width="1" height="42" fill="#2190f8"/>
<rect x="1262" y="330" width="3" height="33" fill="#2190f8"/>
<rect x="1267" y="306" width="1" height="43" fill="#2190f8"/>
<rect x="1266" y="330" width="3" height="1" fill="#2190f8"/>
<rect x="1271" y="317" width="1" height="48" fill="#f03648"/>
<rect x="1270" y="330" width="3" height="20" fill="#f03648"/>
<rect x="1275" y="282" width="1" height="76" fill="#2190f8"/>
<rect x="1274" y="301" width="3" height="49" fill="#2190f8"/>
<rect x="1279" y="259" width="1" height="85" fill="#2190f8"/>
<rect x="1278" y="261" width="3" height="41" fill="#2190f8"/>
<rect x="1283" y="255" width="1" height="26" fill="#2190f8"/>
<rect x="1282" y="262" width="3" height="13" fill="#2190f8"/>
<rect x="1287" y="261" width="1" height="16" fill="#f03648"/>
<rect x="1286" y="262" width="3" height="11" fill="#f03648"/>
<rect x="1291" y="233" width="1" height="42" fill="#2190f8"/>
<rect x="1290" y="241" width="3" height="32" fill="#2190f8"/>
<rect x="1295" y="221" width="1" height="35" fill="#2190f8"/>
<rect x="1294" y="226" width="3" height="16" fill="#2190f8"/>
<rect x="1299" y="201" width="1" height="29" fill="#2190f8"/>
<rect x="1298" y="221" width="3" height="5" fill="#2190f8"/>
<rect x="1303" y="219" width="1" height="26" fill="#f03648"/>
<rect x="1302" y="221" width="3" height="24" fill="#f03648"/>
<rect x="1307" y="229" width="1" height="21" fill="#2190f8"/>
<rect x="1306" y="229" width="3" height="15" fill="#2190f8"/>
<rect x="1311" y="229" width="1" height="17" fill="#f03648"/>
<rect x="1310" y="229" width="3" height="12" fill="#f03648"/>
<rect x="1315" y="225" width="1" height="20" fill="#2190f8"/>
<rect x="1314" y="237" width="3" height="4" fill="#2190f8"/>
<rect x="1319" y="222" width="1" height="19" fill="#2190f8"/>
<rect x="1318" y="236" width="3" height="2" fill="#2190f8"/>
<rect x="1323" y="205" width="1" height="39" fill="#2190f8"/>
<rect x="1322" y="207" width="3" height="30" fill="#2190f8"/>
<rect x="1327" y="197" width="1" height="16" fill="#2190f8"/>
<rect x="1326" y="207" width="3" height="2" fill="#2190f8"/>
<rect x="1331" y="207" width="1" height="23" fill="#f03648"/>
<rect x="1330" y="216" width="3" height="9" fill="#f03648"/>
<rect x="1335" y="218" width="1" height="19" fill="#f03648"/>
<rect x="1334" y="224" width="3" height="8" fill="#f03648"/>
<rect x="1339" y="208" width="1" height="28" fill="#2190f8"/>
<rect x="1338" y="222" width="3" height="10" fill="#2190f8"/>
<rect x="1343" y="220" width="1" height="26" fill="#f03648"/>
<rect x="1342" y="222" width="3" height="15" fill="#f03648"/>
<rect x="1347" y="210" width="1" height="30" fill="#2190f8"/>
<rect x="1346" y="229" width="3" height="8" fill="#2190f8"/>
<rect x="1351" y="216" width="1" height="20" fill="#2190f8"/>
<rect x="1350" y="219" width="3" height="11" fill="#2190f8"/>
<rect x="1355" y="192" width="1" height="41" fill="#2190f8"/>
<rect x="1354" y="217" width="3" height="16" fill="#2190f8"/>
<rect x="1359" y="207" width="1" height="15" fill="#2190f8"/>
<rect x="1358" y="207" width="3" height="10" fill="#2190f8"/>
<rect x="1363" y="196" width="1" height="27" fill="#f03648"/>
<rect x="1362" y="207" width="3" height="11" fill="#f03648"/>
</g>
<g shape-rendering="crispEdges" fill="#36d176">
<rect x="-2" y="749" width="3" height="9"/>
<rect x="2" y="748" width="3" height="10"/>
<rect x="6" y="747" width="3" height="11"/>
<rect x="10" y="746" width="3" height="12"/>
<rect x="14" y="744" width="3" height="14"/>
<rect x="18" y="744" width="3" height="14"/>
<rect x="22" y="745" width="3" height="13"/>
<rect x="26" y="744" width="3" height="14"/>
<rect x="30" y="743" width="3" height="15"/>
<rect x="34" y="744" width="3" height="14"/>
<rect x="38" y="746" width="3" height="12"/>
<rect x="42" y="744" width="3" height="14"/>
<rect x="46" y="746" width="3" height="12"/>
<rect x="50" y="749" width="3" height="9"/>
<rect x="54" y="751" width="3" height="7"/>
<rect x="58" y="753" width="3" height="5"/>
<rect x="62" y="755" width="3" height="3"/>
<rect x="66" y="755" width="3" height="3"/>
<rect x="70" y="755" width="3" height="3"/>
<rect x="74" y="754" width="3" height="4"/>
<rect x="78" y="755" width="3" height="3"/>
<rect x="82" y="755" width="3" height="3"/>
<rect x="86" y="754" width="3" height="4"/>
<rect x="90" y="754" width="3" height="4"/>
<rect x="94" y="755" width="3" height="3"/>
<rect x="98" y="754" width="3" height="4"/>
<rect x="102" y="753" width="3" height="5"/>
<rect x="106" y="753" width="3" height="5"/>
<rect x="110" y="752" width="3" height="6"/>
<rect x="114" y="751" width="3" height="7"/>
<rect x="118" y="750" width="3" height="8"/>
<rect x="122" y="749" width="3" height="9"/>
<rect x="126" y="747" width="3" height="11"/>
<rect x="130" y="747" width="3" height="11"/>
<rect x="134" y="747" width="3" height="11"/>
<rect x="138" y="746" width="3" height="12"/>
<rect x="142" y="745" width="3" height="13"/>
<rect x="146" y="746" width="3" height="12"/>
<rect x="150" y="748" width="3" height="10"/>
<rect x="154" y="748" width="3" height="10"/>
<rect x="158" y="749" width="3" height="9"/>
<rect x="162" y="749" width="3" height="9"/>
<rect x="166" y="748" width="3" height="10"/>
<rect x="170" y="748" width="3" height="10"/>
<rect x="174" y="749" width="3" height="9"/>
<rect x="178" y="749" width="3" height="9"/>
<rect x="182" y="750" width="3" height="8"/>
<rect x="186" y="750" width="3" height="8"/>
<rect x="190" y="751" width="3" height="7"/>
<rect x="194" y="752" width="3" height="6"/>
<rect x="198" y="752" width="3" height="6"/>
<rect x="202" y="751" width="3" height="7"/>
<rect x="206" y="752" width="3" height="6"/>
<rect x="210" y="753" width="3" height="5"/>
<rect x="214" y="753" width="3" height="5"/>
<rect x="218" y="754" width="3" height="4"/>
<rect x="222" y="754" width="3" height="4"/>
<rect x="226" y="754" width="3" height="4"/>
<rect x="230" y="753" width="3" height="5"/>
<rect x="234" y="754" width="3" height="4"/>
<rect x="238" y="755" width="3" height="3"/>
<rect x="242" y="758" width="3" height="1"/>
<rect x="246" y="758" width="3" height="4"/>
<rect x="250" y="758" width="3" height="7"/>
<rect x="254" y="758" width="3" height="9"/>
<rect x="258" y="758" width="3" height="11"/>
<rect x="262" y="758" width="3" height="12"/>
<rect x="266" y="758" width="3" height="14"/>
<rect x="270" y="758" width="3" height="16"/>
<rect x="274" y="758" width="3" height="17"/>
<rect x="278" y="758" width="3" height="17"/>
<rect x="282" y="758" width="3" height="16"/>
<rect x="286" y="758" width="3" height="15"/>
<rect x="290" y="758" width="3" height="13"/>
<rect x="294" y="758" width="3" height="12"/>
<rect x="298" y="758" width="3" height="10"/>
<rect x="302" y="758" width="3" height="9"/>
<rect x="306" y="758" width="3" height="8"/>
<rect x="310" y="758" width="3" height="6"/>
<rect x="314" y="758" width="3" height="4"/>
<rect x="318" y="758" width="3" height="3"/>
<rect x="322" y="758" width="3" height="2"/>
<rect x="326" y="758" width="3" height="2"/>
<rect x="330" y="758" width="3" height="2"/>
<rect x="334" y="758" width="3" height="2"/>
<rect x="338" y="758" width="3" height="1"/>
<rect x="342" y="758" width="3" height="6"/>
<rect x="346" y="758" width="3" height="10"/>
<rect x="350" y="758" width="3" height="12"/>
<rect x="354" y="758" width="3" height="11"/>
<rect x="358" y="758" width="3" height="13"/>
<rect x="362" y="758" width="3" height="17"/>
<rect x="366" y="758" width="3" height="21"/>
<rect x="370" y="758" width="3" height="24"/>
<rect x="374" y="758" width="3" height="27"/>
<rect x="378" y="758" width="3" height="28"/>
<rect x="382" y="758" width="3" height="26"/>
<rect x="386" y="758" width="3" height="22"/>
<rect x="390" y="758" width="3" height="22"/>
<rect x="394" y="758" width="3" height="19"/>
<rect x="398" y="758" width="3" height="17"/>
<rect x="402" y="758" width="3" height="16"/>
<rect x="406" y="758" width="3" height="17"/>
<rect x="410" y="758" width="3" height="17"/>
<rect x="414" y="758" width="3" height="17"/>
<rect x="418" y="758" width="3" height="16"/>
<rect x="422" y="758" width="3" height="16"/>
<rect x="426" y="758" width="3" height="14"/>
<rect x="430" y="758" width="3" height="14"/>
<rect x="434" y="758" width="3" height="14"/>
<rect x="438" y="758" width="3" height="14"/>
<rect x="442" y="758" width="3" height="13"/>
<rect x="446" y="758" width="3" height="12"/>
<rect x="450" y="758" width="3" height="12"/>
<rect x="454" y="758" width="3" height="12"/>
<rect x="458" y="758" width="3" height="11"/>
<rect x="462" y="758" width="3" height="11"/>
<rect x="466" y="758" width="3" height="11"/>
<rect x="470" y="758" width="3" height="11"/>
<rect x="474" y="758" width="3" height="11"/>
<rect x="478" y="758" width="3" height="8"/>
<rect x="482" y="758" width="3" height="7"/>
<rect x="486" y="758" width="3" height="5"/>
<rect x="490" y="758" width="3" height="3"/>
<rect x="494" y="758" width="3" height="2"/>
<rect x="498" y="758" width="3" height="1"/>
<rect x="502" y="758" width="3" height="1"/>
<rect x="506" y="758" width="3" height="1"/>
<rect x="510" y="758" width="3" height="2"/>
<rect x="514" y="758" width="3" height="1"/>
<rect x="518" y="758" width="3" height="1"/>
<rect x="522" y="758" width="3" height="1"/>
<rect x="526" y="758" width="3" height="3"/>
<rect x="530" y="758" width="3" height="4"/>
<rect x="534" y="758" width="3" height="5"/>
<rect x="538" y="758" width="3" height="6"/>
<rect x="542" y="758" width="3" height="6"/>
<rect x="546" y="758" width="3" height="7"/>
<rect x="550" y="758" width="3" height="12"/>
<rect x="554" y="758" width="3" height="17"/>
<rect x="558" y="758" width="3" height="21"/>
<rect x="562" y="758" width="3" height="23"/>
<rect x="566" y="758" width="3" height="24"/>
<rect x="570" y="758" width="3" height="24"/>
<rect x="574" y="758" width="3" height="24"/>
<rect x="578" y="758" width="3" height="23"/>
<rect x="582" y="758" width="3" height="22"/>
<rect x="586" y="758" width="3" height="20"/>
<rect x="590" y="758" width="3" height="18"/>
<rect x="594" y="758" width="3" height="15"/>
<rect x="598" y="758" width="3" height="10"/>
<rect x="602" y="758" width="3" height="7"/>
<rect x="606" y="758" width="3" height="5"/>
<rect x="610" y="758" width="3" height="2"/>
<rect x="614" y="757" width="3" height="1"/>
<rect x="618" y="754" width="3" height="4"/>
<rect x="622" y="752" width="3" height="6"/>
<rect x="626" y="753" width="3" height="5"/>
<rect x="630" y="755" width="3" height="3"/>
<rect x="634" y="755" width="3" height="3"/>
<rect x="638" y="757" width="3" height="1"/>
<rect x="642" y="758" width="3" height="1"/>
<rect x="646" y="758" width="3" height="7"/>
<rect x="650" y="758" width="3" height="11"/>
<rect x="654" y="758" width="3" height="14"/>
<rect x="658" y="758" width="3" height="17"/>
<rect x="662" y="758" width="3" height="19"/>
<rect x="666" y="758" width="3" height="23"/>
<rect x="670" y="758" width="3" height="25"/>
<rect x="674" y="758" width="3" height="27"/>
<rect x="678" y="758" width="3" height="27"/>
<rect x="682" y="758" width="3" height="28"/>
<rect x="686" y="758" width="3" height="29"/>
<rect x="690" y="758" width="3" height="28"/>
<rect x="694" y="758" width="3" height="30"/>
<rect x="698" y="758" width="3" height="32"/>
<rect x="702" y="758" width="3" height="34"/>
<rect x="706" y="758" width="3" height="35"/>
<rect x="710" y="758" width="3" height="38"/>
<rect x="714" y="758" width="3" height="41"/>
<rect x="718" y="758" width="3" height="42"/>
<rect x="722" y="758" width="3" height="41"/>
<rect x="726" y="758" width="3" height="38"/>
<rect x="730" y="758" width="3" height="35"/>
<rect x="734" y="758" width="3" height="33"/>
<rect x="738" y="758" width="3" height="32"/>
<rect x="742" y="758" width="3" height="32"/>
<rect x="746" y="758" width="3" height="30"/>
<rect x="750" y="758" width="3" height="27"/>
<rect x="754" y="758" width="3" height="25"/>
<rect x="758" y="758" width="3" height="23"/>
<rect x="762" y="758" width="3" height="21"/>
<rect x="766" y="758" width="3" height="15"/>
<rect x="770" y="758" width="3" height="14"/>
<rect x="774" y="758" width="3" height="13"/>
<rect x="778" y="758" width="3" height="11"/>
<rect x="782" y="758" width="3" height="11"/>
<rect x="786" y="758" width="3" height="11"/>
<rect x="790" y="758" width="3" height="10"/>
<rect x="794" y="758" width="3" height="10"/>
<rect x="798" y="758" width="3" height="8"/>
<rect x="802" y="758" width="3" height="7"/>
<rect x="806" y="758" width="3" height="7"/>
<rect x="810" y="758" width="3" height="7"/>
<rect x="814" y="758" width="3" height="8"/>
<rect x="818" y="758" width="3" height="8"/>
<rect x="822" y="758" width="3" height="11"/>
<rect x="826" y="758" width="3" height="10"/>
<rect x="830" y="758" width="3" height="9"/>
<rect x="834" y="758" width="3" height="8"/>
<rect x="838" y="758" width="3" height="5"/>
<rect x="842" y="758" width="3" height="1"/>
<rect x="846" y="754" width="3" height="4"/>
<rect x="850" y="753" width="3" height="5"/>
<rect x="854" y="752" width="3" height="6"/>
<rect x="858" y="753" width="3" height="5"/>
<rect x="862" y="752" width="3" height="6"/>
<rect x="866" y="749" width="3" height="9"/>
<rect x="870" y="747" width="3" height="11"/>
<rect x="874" y="745" width="3" height="13"/>
<rect x="878" y="744" width="3" height="14"/>
<rect x="882" y="742" width="3" height="16"/>
<rect x="886" y="741" width="3" height="17"/>
<rect x="890" y="742" width="3" height="16"/>
<rect x="894" y="744" width="3" height="14"/>
<rect x="898" y="745" width="3" height="13"/>
<rect x="902" y="746" width="3" height="12"/>
<rect x="906" y="747" width="3" height="11"/>
<rect x="910" y="747" width="3" height="11"/>
<rect x="914" y="745" width="3" height="13"/>
<rect x="918" y="746" width="3" height="12"/>
<rect x="922" y="745" width="3" height="13"/>
<rect x="926" y="743" width="3" height="15"/>
<rect x="930" y="741" width="3" height="17"/>
<rect x="934" y="740" width="3" height="18"/>
<rect x="938" y="736" width="3" height="22"/>
<rect x="942" y="734" width="3" height="24"/>
<rect x="946" y="733" width="3" height="25"/>
<rect x="950" y="733" width="3" height="25"/>
<rect x="954" y="732" width="3" height="26"/>
<rect x="958" y="731" width="3" height="27"/>
<rect x="962" y="731" width="3" height="27"/>
<rect x="966" y="731" width="3" height="27"/>
<rect x="970" y="734" width="3" height="24"/>
<rect x="974" y="735" width="3" height="23"/>
<rect x="978" y="737" width="3" height="21"/>
<rect x="982" y="740" width="3" height="18"/>
<rect x="986" y="742" width="3" height="16"/>
<rect x="990" y="743" width="3" height="15"/>
<rect x="994" y="744" width="3" height="14"/>
<rect x="998" y="745" width="3" height="13"/>
<rect x="1002" y="747" width="3" height="11"/>
<rect x="1006" y="749" width="3" height="9"/>
<rect x="1010" y="750" width="3" height="8"/>
<rect x="1014" y="750" width="3" height="8"/>
<rect x="1018" y="750" width="3" height="8"/>
<rect x="1022" y="750" width="3" height="8"/>
<rect x="1026" y="751" width="3" height="7"/>
<rect x="1030" y="750" width="3" height="8"/>
<rect x="1034" y="751" width="3" height="7"/>
<rect x="1038" y="753" width="3" height="5"/>
<rect x="1042" y="754" width="3" height="4"/>
<rect x="1046" y="755" width="3" height="3"/>
<rect x="1050" y="756" width="3" height="2"/>
<rect x="1054" y="757" width="3" height="1"/>
<rect x="1058" y="756" width="3" height="2"/>
<rect x="1062" y="758" width="3" height="1"/>
<rect x="1066" y="758" width="3" height="7"/>
<rect x="1070" y="758" width="3" height="12"/>
<rect x="1074" y="758" width="3" height="15"/>
<rect x="1078" y="758" width="3" height="14"/>
<rect x="1082" y="758" width="3" height="12"/>
<rect x="1086" y="758" width="3" height="8"/>
<rect x="1090" y="758" width="3" height="6"/>
<rect x="1094" y="758" width="3" height="5"/>
<rect x="1098" y="758" width="3" height="4"/>
<rect x="1102" y="758" width="3" height="2"/>
<rect x="1106" y="756" width="3" height="2"/>
<rect x="1110" y="753" width="3" height="5"/>
<rect x="1114" y="752" width="3" height="6"/>
<rect x="1118" y="751" width="3" height="7"/>
<rect x="1122" y="748" width="3" height="10"/>
<rect x="1126" y="746" width="3" height="12"/>
<rect x="1130" y="745" width="3" height="13"/>
<rect x="1134" y="744" width="3" height="14"/>
<rect x="1138" y="744" width="3" height="14"/>
<rect x="1142" y="745" width="3" height="13"/>
<rect x="1146" y="748" width="3" height="10"/>
<rect x="1150" y="752" width="3" height="6"/>
<rect x="1154" y="754" width="3" height="4"/>
<rect x="1158" y="755" width="3" height="3"/>
<rect x="1162" y="756" width="3" height="2"/>
<rect x="1166" y="757" width="3" height="1"/>
<rect x="1170" y="757" width="3" height="1"/>
<rect x="1174" y="757" width="3" height="1"/>
<rect x="1178" y="758" width="3" height="2"/>
<rect x="1182" y="758" width="3" height="4"/>
<rect x="1186" y="758" width="3" height="6"/>
<rect x="1190" y="758" width="3" height="6"/>
<rect x="1194" y="758" width="3" height="6"/>
<rect x="1198" y="758" width="3" height="7"/>
<rect x="1202" y="758" width="3" height="8"/>
<rect x="1206" y="758" width="3" height="9"/>
<rect x="1210" y="758" width="3" height="11"/>
<rect x="1214" y="758" width="3" height="11"/>
<rect x="1218" y="758" width="3" height="12"/>
<rect x="1222" y="758" width="3" height="10"/>
<rect x="1226" y="758" width="3" height="8"/>
<rect x="1230" y="758" width="3" height="6"/>
<rect x="1234" y="758" width="3" height="3"/>
<rect x="1238" y="758" width="3" height="2"/>
<rect x="1242" y="757" width="3" height="1"/>
<rect x="1246" y="758" width="3" height="2"/>
<rect x="1250" y="756" width="3" height="2"/>
<rect x="1254" y="756" width="3" height="2"/>
<rect x="1258" y="755" width="3" height="3"/>
<rect x="1262" y="752" width="3" height="6"/>
<rect x="1266" y="751" width="3" height="7"/>
<rect x="1270" y="750" width="3" height="8"/>
<rect x="1274" y="748" width="3" height="10"/>
<rect x="1278" y="745" width="3" height="13"/>
<rect x="1282" y="742" width="3" height="16"/>
<rect x="1286" y="741" width="3" height="17"/>
<rect x="1290" y="738" width="3" height="20"/>
<rect x="1294" y="736" width="3" height="22"/>
<rect x="1298" y="735" width="3" height="23"/>
<rect x="1302" y="734" width="3" height="24"/>
<rect x="1306" y="734" width="3" height="24"/>
<rect x="1310" y="735" width="3" height="23"/>
<rect x="1314" y="735" width="3" height="23"/>
<rect x="1318" y="736" width="3" height="22"/>
<rect x="1322" y="735" width="3" height="23"/>
<rect x="1326" y="735" width="3" height="23"/>
<rect x="1330" y="736" width="3" height="22"/>
<rect x="1334" y="737" width="3" height="21"/>
<rect x="1338" y="738" width="3" height="20"/>
<rect x="1342" y="739" width="3" height="19"/>
<rect x="1346" y="740" width="3" height="18"/>
<rect x="1350" y="741" width="3" height="17"/>
<rect x="1354" y="742" width="3" height="16"/>
<rect x="1358" y="742" width="3" height="16"/>
<rect x="1362" y="743" width="3" height="15"/>
</g>
<polyline points="0.0,755.3 5.3,752.7 12.0,750.0 20.0,748.0 29.3,745.7 40.0,744.9 45.3,744.0 50.6,744.9 58.6,747.1 69.3,750.0 80.0,753.3 88.0,754.3 95.9,755.3 102.6,754.3 117.3,754.3 122.6,752.4 130.6,751.3 138.6,749.1 143.9,748.0 150.6,747.1 173.2,747.1 177.2,748.0 186.6,748.7 197.2,750.0 205.2,750.7 218.6,752.0 229.2,752.9 240.0,753.3 255.4,757.9 270.8,764.8 283.5,770.7 296.3,773.0 309.1,770.7 324.4,764.8 339.7,760.5 357.6,762.5 370.4,769.9 383.1,776.8 395.9,780.9 408.7,778.3 429.1,774.3 447.0,772.0 450.0,771.2 470.0,769.7 476.7,769.0 484.7,768.3 496.7,765.0 506.0,761.7 514.0,759.4 526.0,758.3 536.6,759.9 544.6,760.7 552.6,762.3 563.3,767.7 573.9,773.0 583.3,778.3 587.3,779.6 592.6,779.6 597.9,777.6 611.3,771.7 620.6,765.0 629.9,759.0 636.6,757.0 643.2,755.4 648.6,756.3 653.9,758.1 661.9,763.7 672.6,771.0 680.6,777.0 688.6,781.0 696.5,784.3 703.2,787.0 709.9,787.6 711.3,788.6 718.0,791.0 726.0,793.9 735.3,795.6 744.6,794.3 750.0,793.0 760.6,788.3 771.3,782.3 779.3,777.6 790.0,773.0 800.6,769.0 809.9,766.6 823.3,766.6 836.6,766.3 844.6,765.4 851.3,762.3 860.6,758.3 867.2,755.7 875.2,751.7 883.2,748.3 891.2,746.3 896.6,744.6 907.2,744.6 917.9,744.6 920.6,745.4 928.6,745.4 936.5,744.1 943.2,741.9 950.0,739.9 951.3,739.4 958.0,737.0 966.0,734.6 971.3,733.7 982.0,733.7 990.0,735.9 998.0,738.3 1006.0,741.7 1016.6,746.3 1024.6,748.3 1032.6,749.3 1043.3,751.0 1051.3,752.3 1061.9,753.7 1069.9,757.0 1077.9,761.0 1085.9,763.9 1093.9,766.0 1103.3,766.6 1109.9,763.6 1117.9,759.0 1125.9,755.0 1133.9,751.0 1141.9,748.3 1147.2,747.4 1156.6,747.4 1163.2,749.3 1171.2,752.3 1179.2,754.6 1187.2,757.6 1190.0,758.3 1191.3,759.6 1196.7,760.7 1203.3,761.2 1210.0,764.3 1219.3,766.6 1235.3,766.6 1243.3,764.3 1251.3,762.0 1259.3,759.0 1267.3,755.9 1275.3,753.7 1283.3,751.0 1291.3,747.0 1299.3,743.0 1307.3,739.4 1315.3,737.7 1323.3,735.4 1336.6,735.4 1344.6,736.7 1352.6,737.7 1360.6,739.4 1362.6,740.7" fill="none" stroke="#e8303f" stroke-width="1" shape-rendering="crispEdges"/>
<line x1="0" y1="818.5" x2="1741" y2="818.5" stroke="#c8ced6" stroke-width="1" stroke-dasharray="3 3" shape-rendering="crispEdges"/>
<line x1="0" y1="834.5" x2="1741" y2="834.5" stroke="#c8ced6" stroke-width="1" stroke-dasharray="3 3" shape-rendering="crispEdges"/>
<polyline points="0.0,823.1 8.9,820.6 16.2,820.2 22.1,822.7 31.0,819.0 35.4,824.1 44.3,823.1 51.7,827.5 63.5,827.5 66.4,825.3 76.8,823.8 82.7,826.5 87.1,824.1 94.5,826.5 99.6,822.1 103.3,824.1 109.2,823.8 120.0,819.7 127.7,821.0 132.8,822.3 144.3,818.4 148.1,824.8 155.8,824.3 159.6,826.4 166.0,822.3 176.2,825.3 194.1,824.3 203.1,822.3 212.0,827.4 215.8,824.8 222.2,826.4 229.9,824.3 235.0,825.3 250.3,832.0 258.0,832.5 260.5,833.5 265.6,832.0 270.8,834.0 281.0,829.9 288.6,827.9 301.4,826.4 316.7,823.6 324.4,824.3 332.1,826.9 338.4,825.3 343.6,833.8 349.9,833.0 356.3,827.4 364.0,833.0 375.5,834.0 388.3,826.4 393.4,827.4 401.0,827.4 408.7,830.5 418.9,829.4 426.6,829.4 431.7,827.4 436.8,828.9 447.0,827.4 450.0,829.2 474.3,829.9 479.4,824.3 483.2,825.3 496.0,823.6 504.9,826.9 516.4,826.1 524.1,826.4 529.2,829.4 535.6,830.5 543.2,827.4 552.2,835.1 558.6,836.6 572.6,833.5 587.9,829.9 591.8,829.4 599.4,821.3 603.3,823.3 610.9,823.3 619.9,820.2 627.5,826.4 632.6,827.4 639.0,826.4 649.2,834.0 658.2,833.0 667.1,836.1 674.8,834.0 682.4,833.5 687.5,835.1 691.4,833.0 695.2,835.1 705.4,836.1 714.4,838.1 723.3,832.5 731.0,830.5 738.6,831.0 743.7,833.5 750.1,829.4 760.3,828.9 766.7,823.8 771.8,827.4 789.7,827.9 797.4,826.4 806.3,826.4 819.1,830.5 822.9,830.5 830.6,826.4 835.7,828.9 839.5,822.8 843.4,823.3 847.2,821.8 852.3,824.3 858.7,825.3 868.9,821.3 879.1,822.3 883.0,821.3 891.9,824.3 898.3,824.3 900.0,824.3 911.5,824.3 915.3,821.3 920.4,822.8 930.7,818.7 934.5,819.7 940.9,817.2 947.3,820.2 958.7,818.4 966.4,820.2 971.5,823.3 979.2,823.3 985.6,825.3 999.6,823.8 1007.3,827.4 1013.7,824.3 1030.3,824.3 1039.2,827.4 1053.3,826.4 1059.6,824.8 1069.9,834.5 1076.2,832.0 1087.7,823.8 1094.1,826.4 1104.3,825.3 1108.2,822.8 1119.7,823.3 1124.8,821.8 1140.1,822.8 1151.6,829.9 1155.4,826.9 1165.6,827.4 1172.0,825.3 1181.0,828.4 1188.6,829.4 1195.0,827.4 1202.7,829.4 1219.3,830.5 1230.8,823.8 1243.6,823.3 1247.4,827.9 1251.2,823.3 1255.0,825.3 1265.3,822.3 1271.6,824.3 1283.0,819.7 1292.0,818.5 1299.5,818.5 1306.0,821.0 1311.5,821.7 1317.5,820.2 1325.0,819.0 1329.5,819.5 1335.5,821.5 1346.0,822.7 1353.5,821.5 1359.5,820.2 1362.5,821.7" fill="none" stroke="#2a6cf0" stroke-width="1" shape-rendering="crispEdges"/>
<g shape-rendering="crispEdges" fill="#e8ecf2">
<rect x="0" y="724" width="1741" height="1"/>
<rect x="0" y="726" width="1741" height="1"/>
<rect x="0" y="803" width="1741" height="1"/>
<rect x="0" y="805" width="1741" height="1"/>
<rect x="0" y="845" width="1741" height="1"/>
<rect x="1740" y="0" width="1" height="725"/>
<rect x="1740" y="726" width="1" height="78"/>
<rect x="1740" y="805" width="1" height="42"/>
<rect x="1741" y="728" width="2" height="1"/>
<rect x="1741" y="807" width="2" height="1"/>
<rect x="1741" y="818" width="2" height="1"/>
<rect x="1741" y="834" width="2" height="1"/>
<rect x="1741" y="19" width="2" height="1"/>
<rect x="1741" y="68" width="2" height="1"/>
<rect x="1741" y="117" width="2" height="1"/>
<rect x="1741" y="166" width="2" height="1"/>
<rect x="1741" y="264" width="2" height="1"/>
<rect x="1741" y="313" width="2" height="1"/>
<rect x="1741" y="362" width="2" height="1"/>
<rect x="1741" y="411" width="2" height="1"/>
<rect x="1741" y="460" width="2" height="1"/>
<rect x="1741" y="509" width="2" height="1"/>
<rect x="1741" y="558" width="2" height="1"/>
<rect x="1741" y="607" width="2" height="1"/>
<rect x="1741" y="656" width="2" height="1"/>
<rect x="1741" y="705" width="2" height="1"/>
<rect x="1741" y="758" width="2" height="1"/>
<rect x="1741" y="803" width="2" height="1"/>
<rect x="1741" y="845" width="2" height="1"/>
</g>
<g font-family="'DejaVu Sans Condensed', 'Liberation Sans', sans-serif" font-size="12.3" fill="#ffffff">
<text x="1747.0" y="24">1.28270</text>
<text x="1747.0" y="73">1.27740</text>
<text x="1747.0" y="122">1.27210</text>
<text x="1747.0" y="171">1.26680</text>
<text x="1747.0" y="269">1.25620</text>
<text x="1747.0" y="318">1.25090</text>
<text x="1747.0" y="367">1.24560</text>
<text x="1747.0" y="416">1.24030</text>
<text x="1747.0" y="465">1.23510</text>
<text x="1747.0" y="514">1.22980</text>
<text x="1747.0" y="563">1.22450</text>
<text x="1747.0" y="612">1.21920</text>
<text x="1747.0" y="661">1.21390</text>
<text x="1747.0" y="710">1.20860</text>
<text x="1744.2" y="740">0.005937</text>
<text x="1744.2" y="763">0.00</text>
<text x="1744.3" y="800.2">-0.008476</text>
<text x="1742.5" y="819">100</text>
<text x="1742.9" y="823">70</text>
<text x="1742.9" y="839">30</text>
<text x="1743.3" y="843">0</text>
<text x="94.3" y="741.8" text-anchor="end" fill="#ffffff">003039 0.003590</text>
</g>
<rect x="1742" y="210" width="56" height="14" fill="#ffffff" shape-rendering="crispEdges"/>
<text x="1746.7" y="222" font-family="'DejaVu Sans Condensed', 'Liberation Sans', sans-serif" font-size="12.3" fill="#0a1e3a">1.26134</text>
<polygon points="1364.3,0 1373.2,0 1368.7,4.4" fill="#8a94a0"/>
<polyline points="1411.0,49.6 1424.3,12.6" fill="none" stroke="#ee1c25" stroke-width="2.9" stroke-linejoin="round" stroke-linecap="butt"/>
<line x1="1424.3" y1="12.6" x2="1414.3" y2="21.2" stroke="#ee1c25" stroke-width="2.9" stroke-linecap="butt"/>
<line x1="1424.3" y1="12.6" x2="1424.9" y2="26.8" stroke="#ee1c25" stroke-width="2.9" stroke-linecap="butt"/>
<polyline points="1399.0,286.0 1445.9,115.0 1469.9,147.3" fill="none" stroke="#ee1c25" stroke-width="3.0" stroke-linejoin="round" stroke-linecap="butt"/>
<line x1="1469.9" y1="147.3" x2="1455.4" y2="140.0" stroke="#ee1c25" stroke-width="3.0" stroke-linecap="butt"/>
<line x1="1469.9" y1="147.3" x2="1465.4" y2="131.2" stroke="#ee1c25" stroke-width="3.0" stroke-linecap="butt"/>
<polyline points="1413.4,320.4 1442.4,407.6 1466.6,342.6" fill="none" stroke="#ffffff" stroke-width="2.9" stroke-linejoin="round" stroke-linecap="butt"/>
<line x1="1466.6" y1="342.6" x2="1454.4" y2="352.0" stroke="#ffffff" stroke-width="2.9" stroke-linecap="butt"/>
<line x1="1466.6" y1="342.6" x2="1466.6" y2="356.8" stroke="#ffffff" stroke-width="2.9" stroke-linecap="butt"/>
<polyline points="1433.2,465.5 1456.7,584.0" fill="none" stroke="#ffffff" stroke-width="2.9" stroke-linejoin="round" stroke-linecap="butt"/>
<line x1="1456.7" y1="584.0" x2="1449.8" y2="574.8" stroke="#ffffff" stroke-width="2.9" stroke-linecap="butt"/>
<line x1="1456.7" y1="584.0" x2="1457.2" y2="561.4" stroke="#ffffff" stroke-width="2.9" stroke-linecap="butt"/>
<text x="973.2" y="74.7" font-family="'Liberation Sans', sans-serif" font-weight="bold" font-size="27.6" fill="#ffffff" stroke="#ffffff" stroke-width="0.8" stroke-linejoin="round" textLength="126.0" lengthAdjust="spacingAndGlyphs">GBPUSD</text>
<text x="973.2" y="112.6" font-family="'Liberation Sans', sans-serif" font-weight="bold" font-size="26.4" fill="#ffffff" stroke="#ffffff" stroke-width="0.8" stroke-linejoin="round" textLength="129.2" lengthAdjust="spacingAndGlyphs">H4 Chart</text>
<text x="1452.0" y="20.8" font-family="'Liberation Sans', sans-serif" font-weight="bold" font-size="21.3" fill="#ffffff" stroke="#ffffff" stroke-width="0.7" stroke-linejoin="round" textLength="72.6" lengthAdjust="spacingAndGlyphs">1.2810</text>
<text x="1384.2" y="82.9" font-family="'Liberation Sans', sans-serif" font-weight="bold" font-size="21.3" fill="#ffffff" stroke="#ffffff" stroke-width="0.7" stroke-linejoin="round" textLength="72.2" lengthAdjust="spacingAndGlyphs">1.2725</text>
<text x="1327.6" y="323.4" font-family="'Liberation Sans', sans-serif" font-weight="bold" font-size="21.3" fill="#2190f8" stroke="#2190f8" stroke-width="0.7" stroke-linejoin="round" textLength="72.4" lengthAdjust="spacingAndGlyphs">1.2520</text>
<text x="1363.2" y="439.0" font-family="'Liberation Sans', sans-serif" font-weight="bold" font-size="21.3" fill="#ffffff" stroke="#ffffff" stroke-width="0.7" stroke-linejoin="round" textLength="105.2" lengthAdjust="spacingAndGlyphs">1.2420-30</text>
<text x="1390.9" y="622.9" font-family="'Liberation Sans', sans-serif" font-weight="bold" font-size="21.3" fill="#ffffff" stroke="#ffffff" stroke-width="0.7" stroke-linejoin="round" textLength="72.6" lengthAdjust="spacingAndGlyphs">1.2250</text>
</svg>
</body></html>
